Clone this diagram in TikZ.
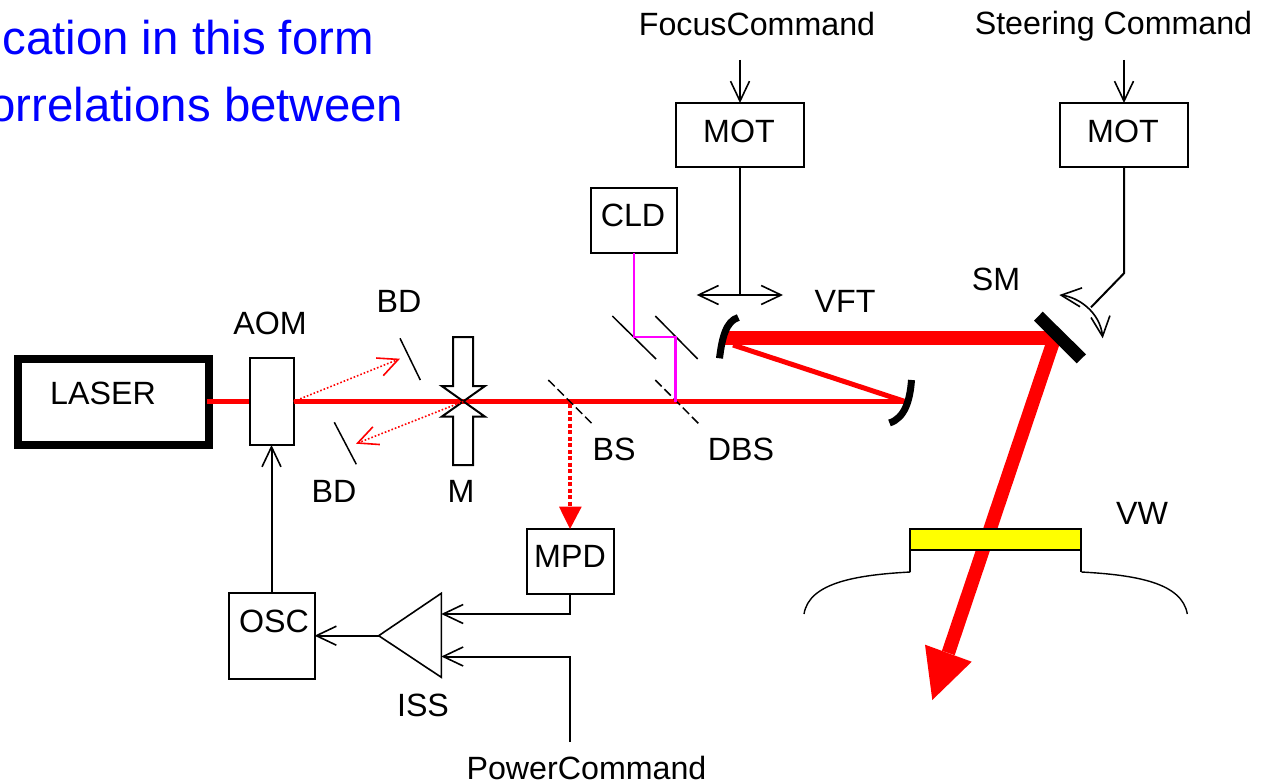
\documentclass[tikz,border=0pt]{standalone}
\usepackage{fontspec}
\setmainfont{Liberation Sans}
\usetikzlibrary{arrows.meta}
\definecolor{pred}{RGB}{255,0,0}
\definecolor{pblue}{RGB}{0,0,255}
\definecolor{pyellow}{RGB}{255,255,0}
\definecolor{pmag}{RGB}{255,0,255}
\tikzset{
  lab/.style={inner sep=0pt,font=\fontsize{32.2}{36}\selectfont,text=black},
  bluetxt/.style={inner sep=0pt,font=\fontsize{47.4}{50}\selectfont,text=pblue,anchor=east},
  boxn/.style={draw=black,line width=2pt,inner sep=0pt,outer sep=0pt,minimum width=#1},
  wire/.style={draw=black,line width=2pt},
  thin mirror/.style={draw=black,line width=1.5pt},
  barb/.tip={Straight Barb[length=20pt,width=19pt,line width=1.6pt]},
  beam/.style={draw=pred,line cap=butt},
  dot beam/.style={draw=pred,line width=1.6pt,dotted,line cap=butt},
  redbarb/.tip={Straight Barb[length=20pt,width=19pt,line width=1.6pt,color=pred]},
  curved mirror/.style={draw=black,line width=7pt},
}
\begin{document}
\begin{tikzpicture}[x=1pt,y=-1pt]
\useasboundingbox (0,0) rectangle (1268,783);
% coordinates
\coordinate (beamL) at (207,401.5);
\coordinate (beamR) at (905,401.5);
\coordinate (mc) at (463.3,401.5);
\coordinate (vftA) at (725,338);
\coordinate (smC) at (1056,338);
\coordinate (vftB) at (733,345);
\coordinate (arrB) at (948.3,653);
\coordinate (arrT) at (932.3,700);
\coordinate (arrL) at (925,644.7);
\coordinate (arrR) at (971.7,661.7);
% boxes
\draw[black,line width=8pt] (18,359) rectangle (209,445);
\draw[beam,line width=5.5pt] (beamL) -- (250,401.5);
\node[boxn=44pt,minimum height=87pt,fill=white] (aom) at (271.5,401.5) {};
\draw[beam,line width=5.5pt] (aom.east) -- (beamR);
\draw[beam,line width=5pt] (vftB) -- (beamR);
\draw[beam,line width=14pt] (vftA) -- (smC);
\draw[beam,line width=13.5pt] (1054.5,338) -- (arrB);
\fill[pred] (arrL) -- (arrR) -- (arrT) -- cycle;
% VW
\node[boxn=171pt,minimum height=21pt,fill=pyellow] (vw) at (995.8,539.5) {};
\coordinate (vwl) at (910.3,572);
\coordinate (vwr) at (1081.3,572);
\coordinate (vwle) at (804,614);
\coordinate (vwre) at (1187.3,614);
\draw[wire] (vw.south west) -- (vwl);
\draw[wire] (vw.south east) -- (vwr);
\draw[black,line width=1.4pt] (vwl) .. controls (855,575) and (809,583) .. (vwle);
\draw[black,line width=1.4pt] (vwr) .. controls (1137,575) and (1182,583) .. (vwre);
% M lens
\draw[black,line width=2pt,line join=miter]
  (453,337) -- (473,337) -- (473,386) -- (485,386) -- (441.7,416.7) -- (453,416.7) -- (453,465) -- (473,465) -- (473,416.7) -- (485,416.7) -- (441.7,386) -- (453,386) -- cycle;
% BD
\coordinate (bd1a) at (400,338.3); \coordinate (bd1b) at (420.3,380);
\coordinate (bd2a) at (334.3,422.3); \coordinate (bd2b) at (356.3,464.3);
\draw[thin mirror] (bd1a) -- (bd1b);
\draw[thin mirror] (bd2a) -- (bd2b);
\coordinate (d1) at (400,358.7);
\coordinate (d2) at (356,443.7);
\draw[dot beam,-{redbarb}] (aom.east) -- (d1);
\draw[dot beam,-{redbarb}] (mc) -- (d2);
% mirrors
\draw[thin mirror] (612.3,316) -- (656,359);
\draw[thin mirror] (655.3,316) -- (697.7,359);
\draw[thin mirror,dash pattern=on 9pt off 4pt] (548.3,380) -- (591.7,423.3);
\draw[thin mirror,dash pattern=on 9pt off 4pt] (655.3,380) -- (698.3,423.3);
% CLD
\node[boxn=86pt,minimum height=65pt] (cld) at (634,220.5) {};
\coordinate (m1) at (634,337);
\coordinate (m2) at (675.7,337);
\coordinate (m3) at (675.7,401.5);
\draw[draw=pmag,line width=2.5pt] (cld.south) -- (m1) -- (m2) -- (m3);
% curved mirrors
\draw[curved mirror] (738.3,317.5) .. controls (726,321) and (722,338) .. (719.5,358.3);
\draw[curved mirror] (911.5,380) .. controls (910,400) and (905,418) .. (889.5,423);
% SM
\fill[black] (1042.7,311.7) -- (1034,320.7) -- (1076.7,363.3) -- (1086,354.3) -- cycle;
% MOT
\node[boxn=128pt,minimum height=64pt] (mot1) at (740,135) {};
\node[boxn=128pt,minimum height=64pt] (mot2) at (1124,135) {};
\coordinate (f0) at (740,60);
\coordinate (s0) at (1124,60);
\draw[wire,-{barb}] (f0) -- (mot1.north);
\draw[wire,-{barb}] (s0) -- (mot2.north);
\coordinate (fj) at (740,295);
\coordinate (fl) at (696.7,295);
\coordinate (fr) at (783,295);
\draw[wire] (mot1.south) -- (fj);
\draw[wire,{barb}-{barb}] (fl) -- (fr);
\coordinate (sb) at (1124,273.3);
\coordinate (sj) at (1091,307.3);
\coordinate (sl) at (1059.3,295);
\coordinate (sr) at (1102.7,338.3);
\draw[wire] (mot2.south) -- (sb) -- (sj);
\draw[black,line width=1.6pt,{barb}-{barb}] (sl) .. controls (1078,297) and (1100,312) .. (sr);
% lower
\node[boxn=87pt,minimum height=65pt] (mpd) at (570,561.5) {};
\node[boxn=86pt,minimum height=86pt] (osc) at (271.5,636) {};
\coordinate (tl) at (378.7,635.7);
\coordinate (tt) at (441.3,593.3);
\coordinate (tb) at (441.3,677.3);
\draw[black,line width=1.6pt,line join=miter] (tl) -- (tt) -- (tb) -- cycle;
\coordinate (i1) at (441.3,614);
\coordinate (i2) at (441.3,656.5);
\coordinate (pc) at (570,742);
\draw[wire,-{barb}] (mpd.south) |- (i1);
\draw[wire,-{barb}] (pc) |- (i2);
\draw[wire,-{barb}] (tl) -- (tl -| osc.east);
\draw[wire,-{barb}] (osc.north) -- (aom.south);
% dotted to MPD
\coordinate (bsp) at (570,404);
\coordinate (tipb) at (570,507);
\draw[draw=pred,line width=4pt,dash pattern=on 4pt off 2.5pt] (bsp) -- (tipb);
\fill[pred] (559,506.7) -- (581.7,506.7) -- (mpd.north) -- cycle;
% labels
\node[lab] (tlaser) at (103,393) {LASER};
\node[lab] (taom) at (270,323) {AOM};
\node[lab] (tbd1) at (399,301) {BD};
\node[lab] (tbd2) at (334,491) {BD};
\node[lab] (tm) at (461,491) {M};
\node[lab] (tbs) at (614,449) {BS};
\node[lab] (tdbs) at (741,449) {DBS};
\node[lab] (tvft) at (845,301) {VFT};
\node[lab] (tsm) at (996,279) {SM};
\node[lab] (tvw) at (1142,513) {VW};
\node[lab] (tcld) at (633,215) {CLD};
\node[lab] (tmot1) at (739,131) {MOT};
\node[lab] (tmot2) at (1123,131) {MOT};
\node[lab] (tmpd) at (570,556) {MPD};
\node[lab] (tosc) at (274,621) {OSC};
\node[lab] (tiss) at (423,705) {ISS};
\node[lab] (tpow) at (586.5,768) {PowerCommand};
\node[lab] (tfoc) at (757,24) {FocusCommand};
\node[lab] (tste) at (1113.5,26.5) {Steering Command};
\node[bluetxt] (b1) at (374,38) {cation in this form};
\node[bluetxt] (b2) at (403.5,105) {orrelations between};
\end{tikzpicture}
\end{document}
